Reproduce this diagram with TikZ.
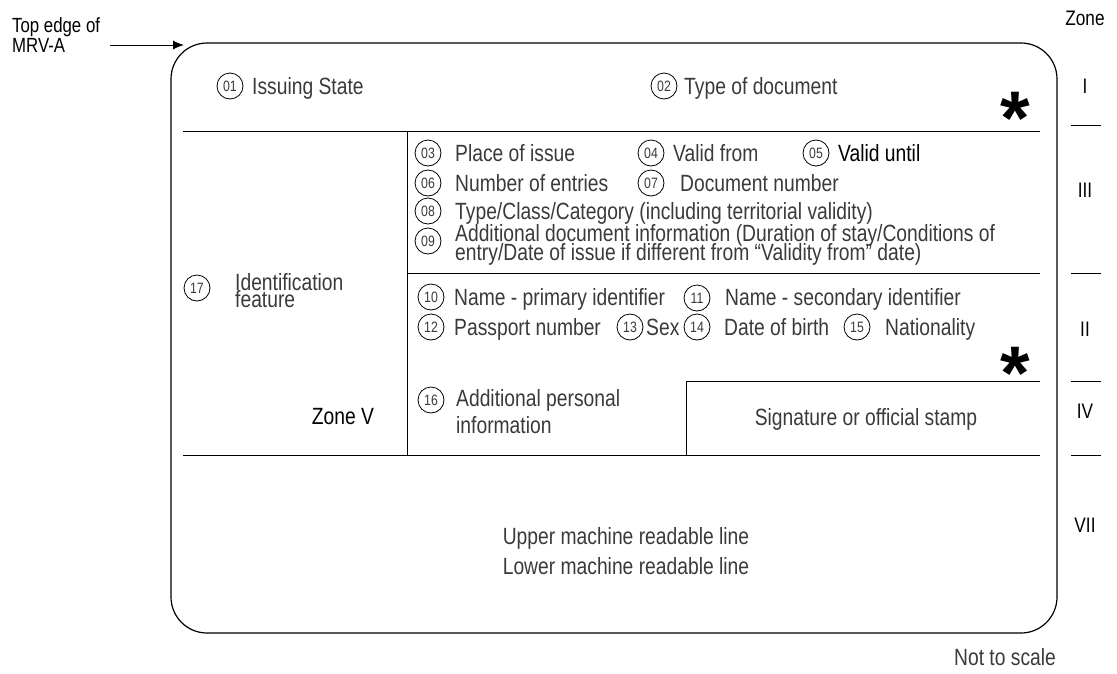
\documentclass[tikz,border=0pt]{standalone}
\usepackage{fontspec}
\setmainfont{Liberation Sans}[FakeStretch=0.82]
\newfontfamily\starfont{Liberation Sans}[FakeStretch=1.0]
\usetikzlibrary{arrows.meta}
\definecolor{txtgray}{HTML}{3A3A3A}
\tikzset{
  lbl/.style={inner sep=0pt, anchor=base west, text=txtgray, font=\fontsize{23.5}{18}\selectfont},
  lblk/.style={lbl, text=black},
  num/.style={circle, draw, line width=0.8pt, minimum size=26pt, inner sep=0pt, text=txtgray, font=\fontsize{15}{15}\selectfont},
  rule/.style={line width=1pt, black},
  star/.style={inner sep=0pt, anchor=base, font=\starfont\bfseries\fontsize{76}{76}\selectfont},
  zonelbl/.style={inner sep=0pt, anchor=base, font=\fontsize{21}{21}\selectfont},
}
\begin{document}
\begin{tikzpicture}[x=1pt,y=-1pt]
\useasboundingbox (0,0) rectangle (1117,673);
% outer card
\draw[line width=1.2pt, rounded corners=36pt] (171,43) rectangle (1057,633);
% arrow
\node[inner sep=0pt, anchor=base west, align=left, font=\fontsize{20.5}{20}\selectfont] (top) at (12,52) {Top edge of\\MRV-A};
\coordinate (arrS) at (110,45);
\coordinate (arrE) at (184,45);
\draw[line width=1pt, -{Latex[length=11pt,width=9pt]}] (arrS) -- (arrE);
% internal rules
\coordinate (h1a) at (183,131); \coordinate (h1b) at (1040,131);
\coordinate (h2a) at (407,273); \coordinate (h2b) at (1040,273);
\coordinate (h3a) at (686,381); \coordinate (h3b) at (1040,381);
\coordinate (h4a) at (183,455); \coordinate (h4b) at (1040,455);
\coordinate (v1a) at (407,131); \coordinate (v1b) at (407,455);
\coordinate (v2a) at (686,381); \coordinate (v2b) at (686,455);
\draw[rule] (h1a) -- (h1b);
\draw[rule] (h2a) -- (h2b);
\draw[rule] (h3a) -- (h3b);
\draw[rule] (h4a) -- (h4b);
\draw[rule] (v1a) -- (v1b);
\draw[rule] (v2a) -- (v2b);
% zone I
\node[num] (c01) at (230,86) {01};
\node[lbl] (t01) at (252,94) {Issuing State};
\node[num] (c02) at (664,86) {02};
\node[lbl] (t02) at (684,94) {Type of document};
\node[star] (s1) at (1015,144) {*};
% zone III
\node[num] (c03) at (428,153) {03};
\node[lbl] (t03) at (455,161) {Place of issue};
\node[num] (c04) at (651,153) {04};
\node[lbl] (t04) at (673,161) {Valid from};
\node[num] (c05) at (816,153) {05};
\node[lblk] (t05) at (838,161) {Valid until};
\node[num] (c06) at (428,183) {06};
\node[lbl] (t06) at (455,191) {Number of entries};
\node[num] (c07) at (651,183) {07};
\node[lbl] (t07) at (680,191) {Document number};
\node[num] (c08) at (428,211) {08};
\node[lbl] (t08) at (455,219) {Type/Class/Category (including territorial validity)};
\node[num] (c09) at (428,241) {09};
\node[lbl] (t09a) at (455,241) {Additional document information (Duration of stay/Conditions of};
\node[lbl] (t09b) at (455,260) {entry/Date of issue if different from “Validity from” date)};
% zone II
\node[num] (c10) at (431,297) {10};
\node[lbl] (t10) at (454,305) {Name - primary identifier};
\node[num] (c11) at (697,298) {11};
\node[lbl] (t11) at (725,305) {Name - secondary identifier};
\node[num] (c12) at (431,327) {12};
\node[lbl] (t12) at (454,335) {Passport number};
\node[num] (c13) at (630,327) {13};
\node[lbl] (t13) at (646,335) {Sex};
\node[num] (c14) at (697,327) {14};
\node[lbl] (t14) at (724,335) {Date of birth};
\node[num] (c15) at (857,327) {15};
\node[lbl] (t15) at (885,335) {Nationality};
\node[star] (s2) at (1015,399) {*};
% zone IV / V
\node[num] (c16) at (431,400) {16};
\node[lbl] (t16a) at (456,406) {Additional personal};
\node[lbl] (t16b) at (456,433) {information};
\node[lbl, anchor=base] (sig) at (866,425) {Signature or official stamp};
\node[lblk, anchor=base] (zv) at (343,424) {Zone V};
\node[num] (c17) at (197,288) {17};
\node[lbl] (t17a) at (235,290) {Identification};
\node[lbl] (t17b) at (235,307) {feature};
% zone VII
\node[lbl, anchor=base] (mrz1) at (626,544) {Upper machine readable line};
\node[lbl, anchor=base] (mrz2) at (626,574) {Lower machine readable line};
% zone column
\node[zonelbl] (zone) at (1085,25) {Zone};
\node[zonelbl] (zI) at (1085,93) {I};
\node[zonelbl] (zIII) at (1085,197) {III};
\node[zonelbl] (zII) at (1085,336) {II};
\node[zonelbl] (zIV) at (1085,418) {IV};
\node[zonelbl] (zVII) at (1085,532) {VII};
\coordinate (z1a) at (1071,125); \coordinate (z1b) at (1101,125);
\coordinate (z2a) at (1071,273); \coordinate (z2b) at (1101,273);
\coordinate (z3a) at (1071,381); \coordinate (z3b) at (1101,381);
\coordinate (z4a) at (1071,455); \coordinate (z4b) at (1101,455);
\draw[rule] (z1a) -- (z1b);
\draw[rule] (z2a) -- (z2b);
\draw[rule] (z3a) -- (z3b);
\draw[rule] (z4a) -- (z4b);
\node[lbl, anchor=base] (nts) at (1005,665) {Not to scale};
\end{tikzpicture}
\end{document}
